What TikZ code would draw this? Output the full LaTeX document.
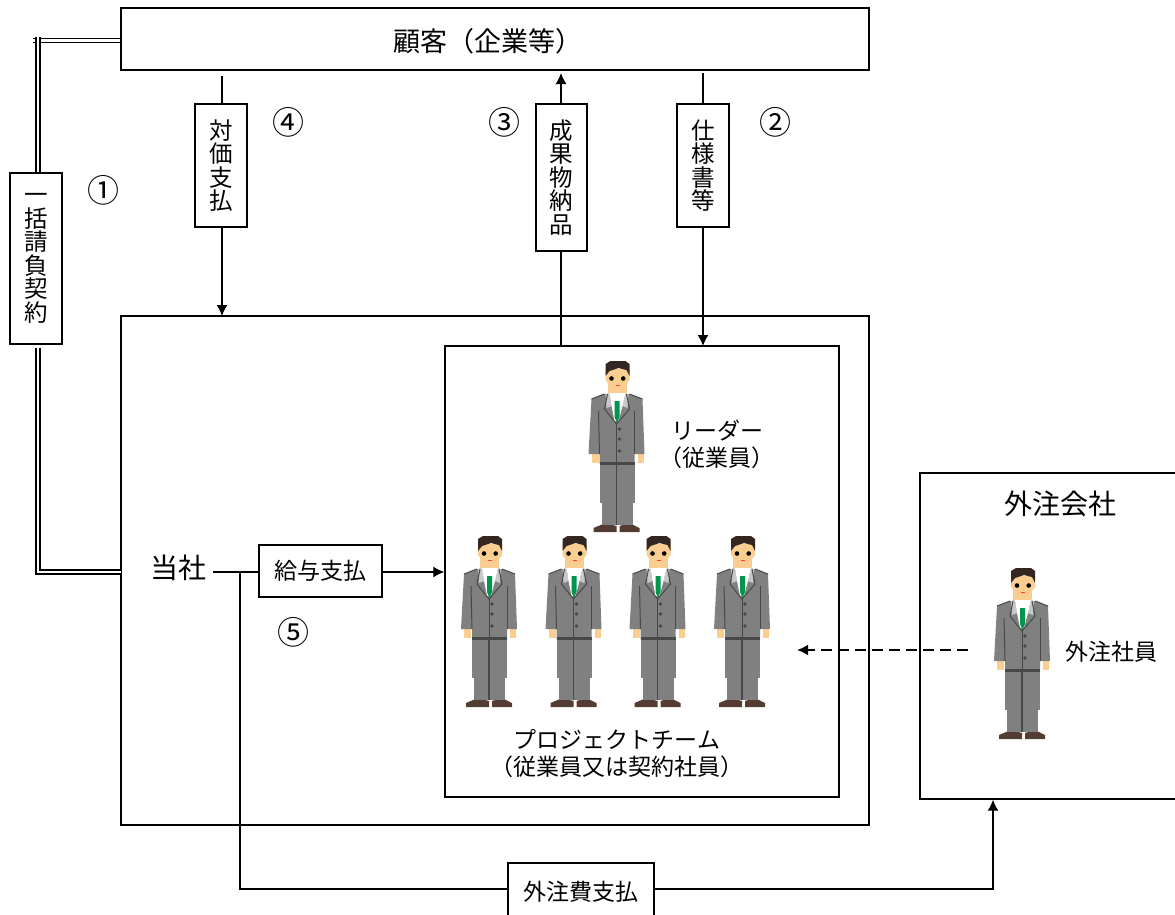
\documentclass[tikz,border=0pt]{standalone}
\usepackage{fontspec}
\setmainfont{Noto Sans CJK JP}
\usetikzlibrary{arrows.meta}
\tikzset{>={Latex[length = 11pt, width = 11pt]}}
\definecolor{mysuit}{RGB}{128, 128, 128}
\definecolor{mysuitdark}{RGB}{72, 72, 72}
\definecolor{mycollar}{RGB}{200, 200, 200}
\definecolor{myskin}{RGB}{250, 205, 145}
\definecolor{myhair}{RGB}{52, 38, 32}
\definecolor{mytie}{RGB}{0, 150, 80}
\definecolor{myshoe}{RGB}{84, 60, 50}
\newcommand{\lab}[2]{\fontsize{#1}{#2}\selectfont\lineskiplimit=-30pt}
\tikzset{
  box/.style = {draw, line width = 1.4pt, inner sep = 0pt},
  tag/.style = {box, align = center, font = \lab{23.5}{23.5}, text width = 26pt},
  wire/.style = {line width = 1.3pt},
  contract/.style = {line width = 1.3pt, double, double distance = 2.6pt},
  num/.style = {font = \lab{32}{32}, inner sep = 0pt},
  txt/.style = {inner sep = 0pt, align = center},
  person/.pic = {
    % shoes and trousers
    \fill[myshoe] (-24, 171) -- (-24, 167) -- (-12, 162) -- (-1, 165) -- (-1, 171) -- cycle;
    \fill[myshoe] (2, 171) -- (2, 165) -- (12, 162) -- (22, 167) -- (22, 171) -- cycle;
    \fill[mysuit] (-18, 103) rectangle (17, 142);
    \fill[mysuit] (-16, 142) rectangle (15, 164);
    \draw[mysuitdark, line width = 1.2pt] (-1, 104) -- (-1, 164);
    % hands
    \fill[myskin] (-26, 92) rectangle (-19, 102);
    \fill[myskin] (20, 92) rectangle (26, 102);
    % jacket and sleeves
    \fill[mysuit] (-26, 38) -- (-13, 33) -- (12, 33) -- (25, 38) -- (27, 93) -- (17, 93) -- (17, 103) -- (-18, 103) -- (-18, 93) -- (-29, 93) -- cycle;
    \draw[mysuitdark, line width = 1pt] (-26, 38) -- (-13, 33) (12, 33) -- (25, 38);
    \draw[mysuitdark, line width = 1pt] (-19, 50) -- (-18, 93);
    \draw[mysuitdark, line width = 1pt] (17, 50) -- (17, 93);
    \draw[mysuitdark, line width = 1pt] (-1, 63) -- (-1, 103);
    \fill[mysuitdark] (-18, 101) rectangle (17, 104);
    \foreach \yb in {68, 78, 90} {\fill[mysuitdark] (2, \yb) circle (1.8);}
    % shirt, lapels and tie
    \fill[mycollar] (-12, 33) -- (-8, 32) -- (-6, 45) -- (-11, 47) -- cycle;
    \fill[mycollar] (11, 33) -- (8, 32) -- (5, 45) -- (10, 47) -- cycle;
    \fill[white] (-8, 32) -- (8, 32) -- (5, 45) -- (1, 60) -- (-3, 60) -- (-6, 45) -- cycle;
    \fill[mytie] (-3, 40) -- (2, 40) -- (2, 56) -- (-0.5, 62) -- (-3, 56) -- cycle;
    \draw[mysuitdark, line width = 1pt] (-10, 33) -- (-13, 48) -- (-1, 63) -- (12, 48) -- (9, 33);
    % head
    \fill[myskin] (-10, 20) rectangle (9, 32);
    \fill[myskin] (-12, 8) -- (12, 8) -- (12, 19) -- (6, 27) -- (-6, 27) -- (-12, 19) -- cycle;
    \fill[myhair] (-12, 15) -- (-12, 3) -- (-7, 0) -- (8, 0) -- (12, 3) -- (12, 15) -- (9, 9) -- (1, 7) -- (-8, 10) -- cycle;
    \fill (-6, 17.5) circle (2.3);
    \fill (5.7, 17.5) circle (2.3);
    \fill[red!70!myskin] (-2, 23.5) rectangle (2, 25);
  }
}

\begin{document}
\begin{tikzpicture}[x = 1pt, y = -1pt]
\useasboundingbox (0, 0) rectangle (1175, 914);
\clip (0, 0) rectangle (1175, 914);

% the large boxes
\node[box, minimum width = 748pt, minimum height = 62pt] (client) at (495, 39) {};
\node[box, minimum width = 748pt, minimum height = 509pt] (company) at (495, 570.5) {};
\node[box, minimum width = 394pt, minimum height = 451pt] (team) at (642, 571.5) {};
\node[box, minimum width = 262pt, minimum height = 326pt] (vendor) at (1051, 636) {};

% tags on the connectors
\node[tag, minimum width = 52pt, minimum height = 171pt] (contract) at (36, 258.5) {一\\括\\請\\負\\契\\約};
\node[tag, minimum width = 52pt, minimum height = 123pt] (fee) at (221, 165.5) {対\\価\\支\\払};
\node[tag, minimum width = 51pt, minimum height = 147pt] (goods) at (561.5, 177.5) {成\\果\\物\\納\\品};
\node[tag, minimum width = 52pt, minimum height = 123pt] (spec) at (703, 165.5) {仕\\様\\書\\等};
\node[box, font = \lab{23}{23}, minimum width = 123pt, minimum height = 52pt] (salary) at (320.5, 571) {給与支払};
\node[box, font = \lab{23}{23}, minimum width = 146pt, minimum height = 58pt] (outfee) at (581, 892) {外注費支払};

% texts
\node[txt, font = \lab{27}{27}] (clientname) at (488, 41) {顧客（企業等）};
\node[txt, font = \lab{28}{28}] (us) at (178, 568) {当社};
\node[txt, font = \lab{28}{28}] (vendorname) at (1060, 504) {外注会社};
\node[txt, font = \lab{23}{23}] (vendorstaff) at (1111, 652) {外注社員};
\node[txt, font = \lab{23}{27}] (leader) at (717, 444) {リーダー\\（従業員）};
\node[txt, font = \lab{23}{27}] (teamname) at (617, 754) {プロジェクトチーム\\（従業員又は契約社員）};

\node[num] (n1) at (103, 190) {①};
\node[num] (n2) at (775, 122) {②};
\node[num] (n3) at (504, 122) {③};
\node[num] (n4) at (288, 122) {④};
\node[num] (n5) at (293, 632) {⑤};

% free ends and corners of the connectors
\coordinate (a1) at (33, 40.5);
\coordinate (a2) at (38, 37);
\coordinate (a3) at (38, 348);
\coordinate (a4) at (38, 572);
\coordinate (a5) at (121, 572);
\coordinate (b1) at (222, 76);
\coordinate (b2) at (222, 316);
\coordinate (c1) at (561, 73);
\coordinate (c2) at (561, 346);
\coordinate (d1) at (703, 73);
\coordinate (d2) at (703, 346);
\coordinate (e1) at (213, 572);
\coordinate (e2) at (240, 572);
\coordinate (e3) at (240, 889);
\coordinate (f1) at (993, 889);
\coordinate (g1) at (968, 650);
\coordinate (g2) at (797, 650);

% double lines of the contract
\draw[contract] (client.west |- a1) -- (a1);
\draw[contract] (a2) -- (a2 |- contract.north);
\draw[contract] (a3) -- (a4) -- (a5);

% single lines
\draw[wire] (b1) -- (b1 |- fee.north);
\draw[wire, ->] (b1 |- fee.south) -- (b2);
\draw[wire, ->] (c1 |- goods.north) -- (c1);
\draw[wire] (c2) -- (c2 |- goods.south);
\draw[wire] (d1) -- (d1 |- spec.north);
\draw[wire, ->] (d1 |- spec.south) -- (d2);
\draw[wire] (e1) -- (salary.west |- e1);
\draw[wire, ->] (salary.east |- e1) -- (team.west |- e1);
\draw[wire] (e2) -- (e3) -- (outfee.west |- e3);
\draw[wire, ->] (outfee.east |- e3) -- (f1) -- (f1 |- vendor.south);
\draw[->, line width = 2.6pt, dash pattern = on 11pt off 6pt] (g1) -- (g2);

% the people
\pic at (617.5, 361) {person};
\foreach \xp in {490, 574.5, 658.5, 743} {
  \pic at (\xp, 536) {person};
}
\pic at (1023, 568) {person};
\end{tikzpicture}
\end{document}
